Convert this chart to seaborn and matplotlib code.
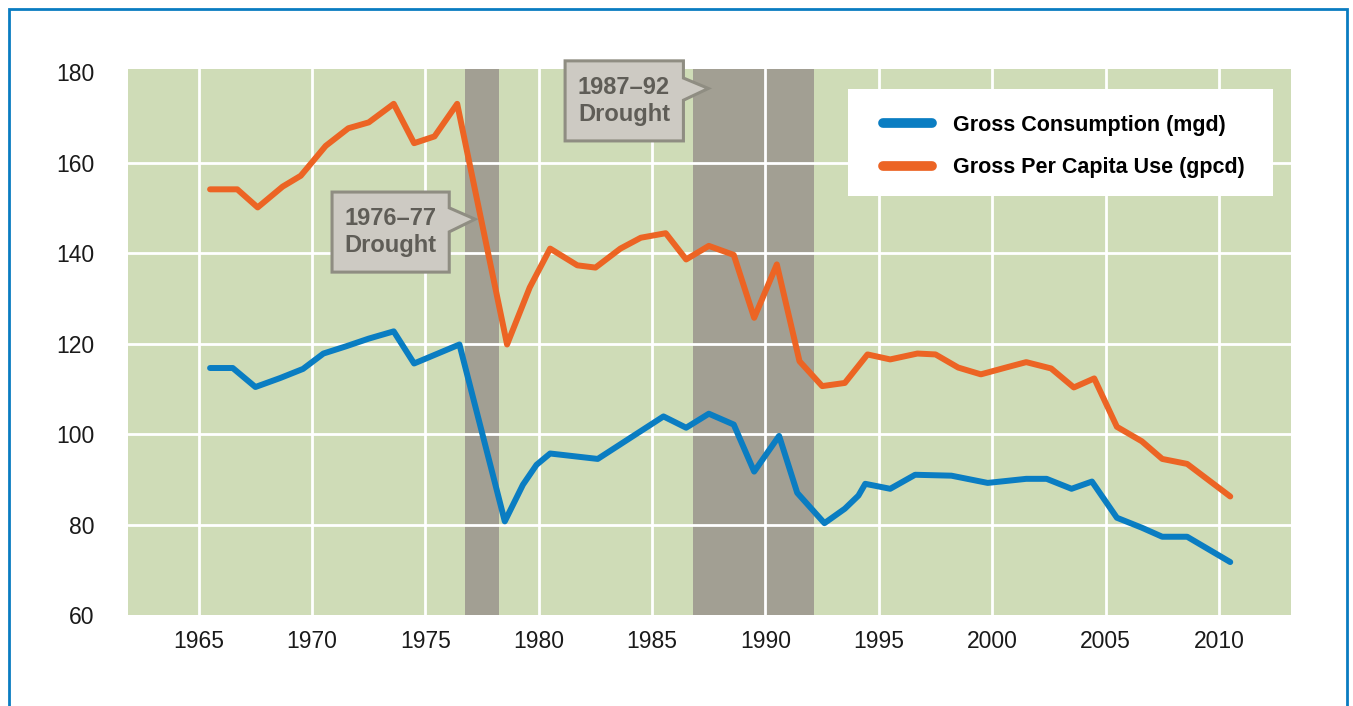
import pandas
import seaborn
import matplotlib.pyplot as plot
from matplotlib.patches import Polygon, Rectangle

# Gross consumption (mgd)
cons_year = [1965.5, 1966.5, 1967.5, 1968.6, 1969.6, 1970.5, 1971.5, 1972.5, 1973.6, 1974.5,
             1976.5, 1978.5, 1979.3, 1979.9, 1980.5, 1982.6, 1985.5, 1986.5, 1987.5, 1988.6,
             1989.5, 1990.6, 1991.4, 1992.6, 1993.5, 1994.1, 1994.4, 1995.5, 1996.6, 1998.2,
             1999.8, 2001.5, 2002.4, 2003.5, 2004.4, 2005.5, 2006.6, 2007.5, 2008.6, 2010.5]
cons_value = [114.6, 114.6, 110.4, 112.4, 114.4, 117.8, 119.4, 121.1, 122.7, 115.6,
              119.8, 80.7, 88.8, 93.2, 95.7, 94.5, 103.9, 101.4, 104.5, 102.1,
              91.7, 99.6, 87.0, 80.3, 83.5, 86.4, 89.0, 87.9, 91.0, 90.8,
              89.2, 90.1, 90.1, 87.9, 89.5, 81.5, 79.3, 77.3, 77.3, 71.7]

# Gross per capita use (gpcd)
cap_year = [1965.5, 1966.7, 1967.6, 1968.7, 1969.5, 1970.6, 1971.6, 1972.5, 1973.6, 1974.5,
            1975.4, 1976.4, 1978.6, 1979.6, 1980.5, 1981.7, 1982.5, 1983.6, 1984.5, 1985.6,
            1986.5, 1987.5, 1988.6, 1989.5, 1990.5, 1991.5, 1992.5, 1993.5, 1994.5, 1995.5,
            1996.7, 1997.5, 1998.5, 1999.5, 2000.6, 2001.5, 2002.6, 2003.6, 2004.5, 2005.5,
            2006.6, 2007.5, 2008.6, 2010.5]
cap_value = [154.1, 154.1, 150.1, 154.7, 157.1, 163.7, 167.6, 168.9, 173.0, 164.3,
             165.8, 173.0, 119.8, 132.4, 141.0, 137.3, 136.8, 141.0, 143.4, 144.4,
             138.6, 141.6, 139.6, 125.7, 137.5, 116.1, 110.6, 111.3, 117.6, 116.5,
             117.8, 117.6, 114.7, 113.2, 114.7, 115.9, 114.5, 110.3, 112.3, 101.6,
             98.4, 94.5, 93.4, 86.2]

series_names = ["Gross Consumption (mgd)", "Gross Per Capita Use (gpcd)"]
series_colors = ["#0a7dc2", "#ec6424"]

drought_spans = [(1976.75, 1978.25), (1986.8, 1992.15)]
drought_labels = ["1976\u201377\nDrought", "1987\u201392\nDrought"]

x_ticks = list(range(1965, 2011, 5))
y_ticks = list(range(60, 181, 20))

df = pandas.concat([
    pandas.DataFrame({"year": cons_year, "value": cons_value, "series": series_names[0]}),
    pandas.DataFrame({"year": cap_year, "value": cap_value, "series": series_names[1]}),
])

seaborn.set_theme(style="whitegrid", rc={
    "axes.facecolor": "#cfdcb7",
    "grid.color": "white",
    "grid.linewidth": 2.0,
    "axes.edgecolor": "none",
})
plot.rcParams["font.family"] = ["Liberation Sans", "DejaVu Sans"]

fig = plot.figure(figsize=(13.53, 7.06), dpi=100)
ax = fig.add_axes([128 / 1353, 1 - 615 / 706, 1163 / 1353, 546 / 706])

for start, end in drought_spans:
    ax.axvspan(start, end, color="#a29f93", lw=0, zorder=0.2)

seaborn.lineplot(data=df, x="year", y="value", hue="series", palette=series_colors,
                 estimator=None, sort=False, linewidth=4.3, ax=ax, legend=True,
                 solid_capstyle="round")

ax.set_xlim(1961.88, 2013.18)
ax.set_ylim(60, 180.7)
ax.set_xticks(x_ticks)
ax.set_yticks(y_ticks)
ax.set_xlabel("")
ax.set_ylabel("")
ax.tick_params(axis="both", length=0, labelsize=16.5, labelcolor="#1a1a1a")
ax.tick_params(axis="x", pad=10.5)
ax.tick_params(axis="y", pad=24)
for tick in ax.yaxis.get_major_ticks():
    if tick.get_loc() in (60, 180):
        tick.gridline.set_visible(False)
for side in ax.spines.values():
    side.set_visible(False)

# callout boxes for the drought periods
callouts = [
    dict(left=1970.88, right=1976.05, top=153.5, bottom=135.8, base_top=150.0, base_bot=144.7,
         tip=(1977.19, 147.5), text_xy=(1973.46, 144.7)),
    dict(left=1981.16, right=1986.38, top=182.5, bottom=164.8, base_top=178.7, base_bot=173.8,
         tip=(1987.48, 176.4), text_xy=(1983.76, 173.6)),
]
for c, label in zip(callouts, drought_labels):
    verts = [(c["left"], c["top"]), (c["right"], c["top"]), (c["right"], c["base_top"]),
             c["tip"], (c["right"], c["base_bot"]), (c["right"], c["bottom"]),
             (c["left"], c["bottom"])]
    ax.add_patch(Polygon(verts, closed=True, facecolor="#cdcac3", edgecolor="#8f8d82",
                         lw=2.2, zorder=4, clip_on=False))
    ax.text(c["text_xy"][0], c["text_xy"][1], label, ha="center", va="center",
            fontsize=17, fontweight="bold", color="#5f5d57", linespacing=1.2, zorder=5)

# legend on a white panel
ax.add_patch(Rectangle((0.6191, 0.768), 0.3654, 0.1954, transform=ax.transAxes,
                       facecolor="white", edgecolor="none", zorder=4))
handles, labels = ax.get_legend_handles_labels()
leg = ax.legend(handles, labels, loc="upper left", bbox_to_anchor=(0.6495, 0.916),
                frameon=False, borderpad=0, borderaxespad=0, fontsize=15.5,
                handlelength=2.28, handletextpad=0.94, labelspacing=1.0)
leg.set_zorder(5)
for line in leg.get_lines():
    line.set_linewidth(7)
    line.set_solid_capstyle("round")
for text in leg.get_texts():
    text.set_fontweight("bold")
    text.set_color("black")

# blue frame round the figure
fig.patches.append(Rectangle((9 / 1353, -0.1), 1338 / 1353, 1 - 9 / 706 + 0.1,
                             transform=fig.transFigure, fill=False,
                             edgecolor="#0a7cc1", lw=2.0, clip_on=False))

fig.savefig("out.png", dpi=100)
